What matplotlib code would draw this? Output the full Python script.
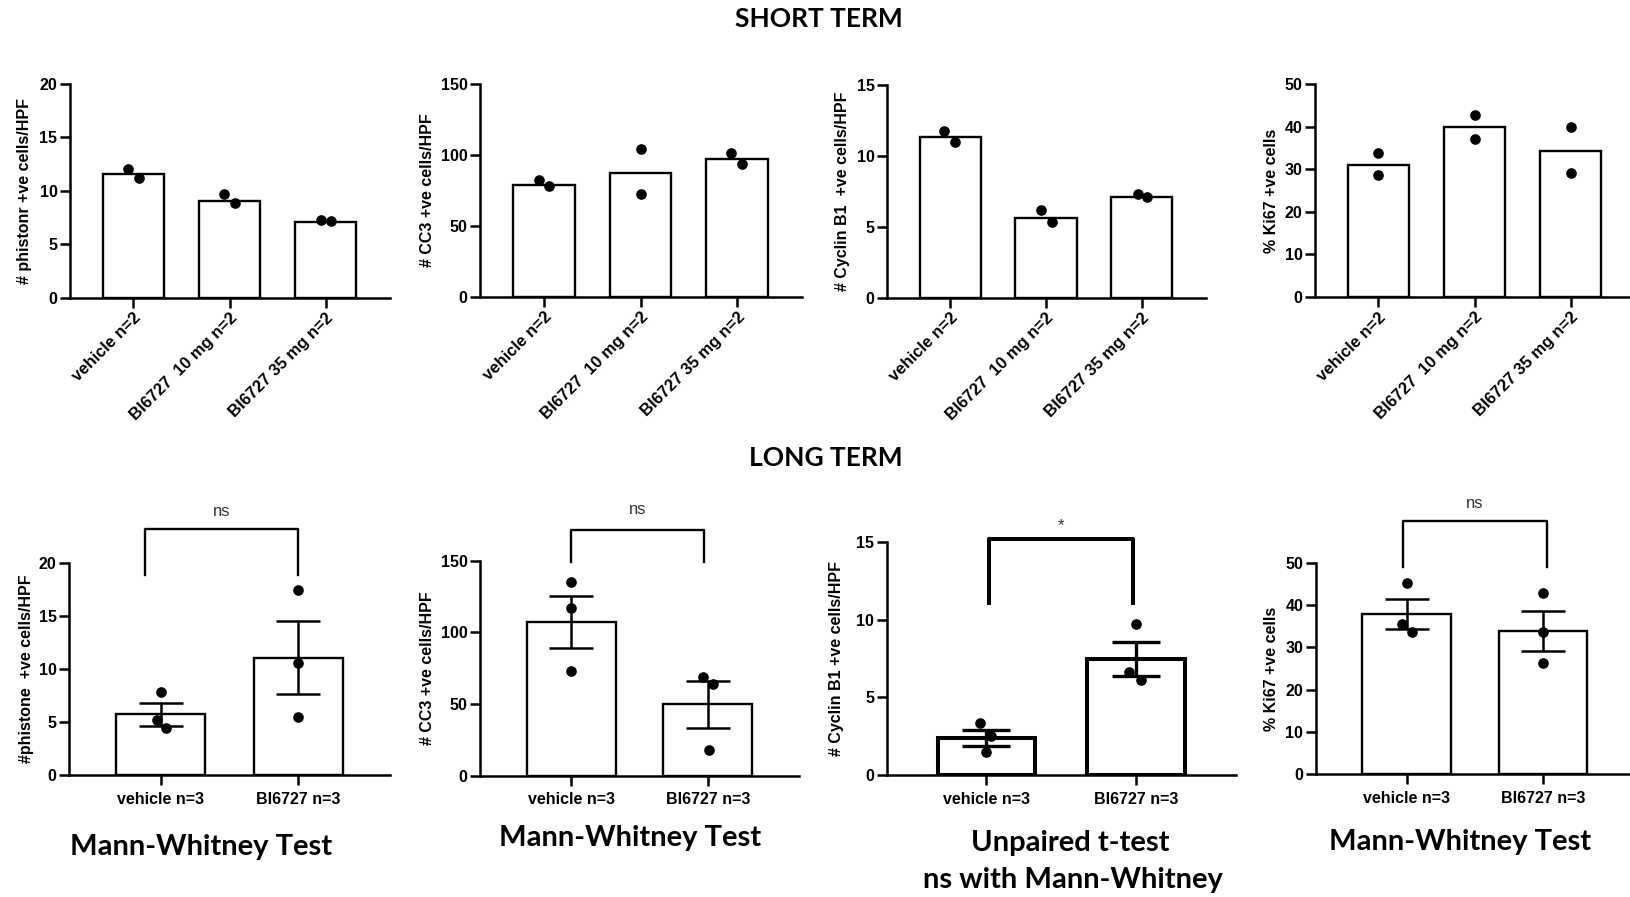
import numpy as np
import matplotlib
matplotlib.use('Agg')
import matplotlib.pyplot as plt

### Data
short_groups = ['vehicle n=2', 'BI6727  10 mg n=2', 'BI6727 35 mg n=2']
long_groups = ['vehicle n=3', 'BI6727 n=3']

# short term: bar heights and the individual points
phist_short = [11.55, 9.05, 7.12]
phist_short_pts = [[12.0, 11.23], [9.67, 8.83], [7.27, 7.14]]
cc3_short = [78.8, 87.0, 96.9]
cc3_short_pts = [[82.3, 78.1], [104.2, 72.4], [101.6, 93.3]]
cyc_short = [11.3, 5.65, 7.12]
cyc_short_pts = [[11.76, 10.96], [6.18, 5.36], [7.31, 7.08]]
ki67_short = [30.9, 39.8, 34.3]
ki67_short_pts = [[33.9, 28.6], [42.7, 37.2], [39.8, 29.2]]

# long term: mean, SEM and individual points
phist_long = [5.73, 11.1]
phist_long_sem = [1.07, 3.46]
phist_long_pts = [[7.86, 5.19, 4.46], [17.45, 10.6, 5.5]]
cc3_long = [107.4, 49.8]
cc3_long_sem = [18.3, 16.3]
cc3_long_pts = [[134.9, 116.8, 73.3], [69.1, 63.8, 17.9]]
cyc_long = [2.40, 7.46]
cyc_long_sem = [0.53, 1.11]
cyc_long_pts = [[3.33, 2.53, 1.50], [9.73, 6.66, 6.12]]
ki67_long = [37.8, 33.9]
ki67_long_sem = [3.55, 4.65]
ki67_long_pts = [[45.3, 35.4, 33.6], [42.8, 33.6, 26.4]]

short_ylabels = ['# phistonr +ve cells/HPF', '# CC3 +ve cells/HPF',
                 '# Cyclin B1  +ve cells/HPF', '% Ki67 +ve cells']
long_ylabels = ['#phistone  +ve cells/HPF', '# CC3 +ve cells/HPF',
                '# Cyclin B1 +ve cells/HPF', '% Ki67 +ve cells']
short_ymax = [20, 150, 15, 50]
short_ystep = [5, 50, 5, 10]
long_ymax = [20, 150, 15, 50]
long_ystep = [5, 50, 5, 10]
sig_labels = ['ns', 'ns', '*', 'ns']

### Layout (pixels) and point jitter
W, H = 1630, 897
short_rects = [(70, 390, 84, 297.7), (480, 802, 84, 296.7),
               (887, 1206, 85, 297.7), (1315, 1635, 84, 297)]
long_rects = [(69, 390, 563.3, 775), (480, 799, 560.7, 775.7),
              (886.7, 1235.7, 542.3, 775), (1315.7, 1634, 562.7, 774.3)]
short_ylab_x = [25, 427, 842, 1272]
long_ylab_x = [27, 427, 837, 1272]
short_jit = [[[-0.055, 0.06], [-0.054, 0.06], [-0.05, 0.06]],
             [[-0.055, 0.05], [0, 0], [-0.066, 0.045]],
             [[-0.06, 0.05], [-0.05, 0.06], [-0.045, 0.055]],
             [[0, 0], [0, 0], [0, 0]]]
long_jit = [[[0, -0.03, 0.036], [0, 0, 0]],
            [[0, 0, 0], [-0.037, 0.037, 0.007]],
            [[-0.04, 0.033, 0], [0, -0.047, 0.033]],
            [[0, -0.037, 0.037], [0, 0, 0]]]
# bracket: x left, x right, y top, y bottom, text y
brackets = [(-0.116, 1.0, 23.2, 18.9, 24.9),
            (0.0, 0.97, 171.4, 148.9, 185.4),
            (0.014, 0.983, 15.19, 11.11, 16.1),
            (-0.026, 1.03, 59.9, 48.9, 64.0)]
captions = [(201, 847, 'Mann-Whitney Test'), (630, 838, 'Mann-Whitney Test'),
            (1070, 843, 'Unpaired t-test'), (1073, 880, 'ns with Mann-Whitney'),
            (1460, 842, 'Mann-Whitney Test')]

plt.rcParams['font.family'] = ['Liberation Sans', 'DejaVu Sans']

fig = plt.figure(figsize=(W / 100, H / 100), dpi=100)


def px_axes(r):
    x0, x1, yt, yb = r
    return fig.add_axes([x0 / W, 1 - yb / H, (x1 - x0) / W, (yb - yt) / H])


def style_axes(ax, ymax, ystep, lw):
    for s in ['top', 'right']:
        ax.spines[s].set_visible(False)
    for s in ['left', 'bottom']:
        ax.spines[s].set_linewidth(lw)
    ax.set_ylim(0, ymax)
    ax.set_yticks(np.arange(0, ymax + 0.1, ystep))
    ax.tick_params(axis='both', width=lw, length=7, labelsize=11.5, pad=2)
    for t in ax.get_yticklabels():
        t.set_fontweight('bold')


### Short term row
short_means = [phist_short, cc3_short, cyc_short, ki67_short]
short_pts = [phist_short_pts, cc3_short_pts, cyc_short_pts, ki67_short_pts]
for i in range(4):
    ax = px_axes(short_rects[i])
    x = np.arange(len(short_groups))
    ax.bar(x, short_means[i], width=0.64, color='white', edgecolor='black',
           linewidth=1.7, zorder=2)
    for j in range(len(short_groups)):
        ax.scatter(x[j] + np.array(short_jit[i][j]), short_pts[i][j], s=44,
                   color='black', zorder=3, clip_on=False)
    ax.set_xlim(-0.66, 2.67)
    style_axes(ax, short_ymax[i], short_ystep[i], 1.8)
    ax.set_xticks(x)
    ax.set_xticklabels(short_groups, rotation=45, ha='right',
                       rotation_mode='anchor', fontweight='bold', fontsize=12)
    x0, x1 = short_rects[i][0], short_rects[i][1]
    ax.set_ylabel(short_ylabels[i], fontsize=11.5, fontweight='bold', va='center')
    ax.yaxis.set_label_coords((short_ylab_x[i] - x0) / (x1 - x0), 0.5)

### Long term row
long_means = [phist_long, cc3_long, cyc_long, ki67_long]
long_sems = [phist_long_sem, cc3_long_sem, cyc_long_sem, ki67_long_sem]
long_pts = [phist_long_pts, cc3_long_pts, cyc_long_pts, ki67_long_pts]
for i in range(4):
    ax = px_axes(long_rects[i])
    lw = 2.9 if i == 2 else 1.7
    x = np.arange(len(long_groups))
    ax.bar(x, long_means[i], width=0.65, color='white', edgecolor='black',
           linewidth=lw, zorder=2)
    ax.errorbar(x, long_means[i], yerr=long_sems[i], fmt='none', ecolor='black',
                elinewidth=1.8 if i != 2 else 2.4, capsize=17 if i == 2 else 16,
                capthick=1.8 if i != 2 else 2.4, zorder=4)
    for j in range(len(long_groups)):
        ax.scatter(x[j] + np.array(long_jit[i][j]), long_pts[i][j], s=44,
                   color='black', zorder=3, clip_on=False)
    ax.set_xlim(-0.667, 1.667)
    style_axes(ax, long_ymax[i], long_ystep[i], 1.8)
    ax.set_xticks(x)
    ax.set_xticklabels(long_groups, fontweight='bold', fontsize=11.5)
    ax.tick_params(axis='x', pad=5)
    x0, x1 = long_rects[i][0], long_rects[i][1]
    ax.set_ylabel(long_ylabels[i], fontsize=11.5, fontweight='bold', va='center')
    ax.yaxis.set_label_coords((long_ylab_x[i] - x0) / (x1 - x0), 0.5)

    # significance bracket
    bl, br, bt, bb, ty = brackets[i]
    ax.plot([bl, bl, br, br], [bb, bt, bt, bb], color='black',
            linewidth=lw, clip_on=False, zorder=5)
    ax.text((bl + br) / 2, ty, sig_labels[i], ha='center', va='center',
            fontsize=12, color='#333333', clip_on=False)

### Row titles and captions
fig.text(819 / W, 1 - 19 / H, 'SHORT TERM', ha='center', va='center',
         fontsize=19, fontweight='bold', family=['Lato', 'DejaVu Sans'])
fig.text(826 / W, 1 - 458 / H, 'LONG TERM', ha='center', va='center',
         fontsize=19, fontweight='bold', family=['Lato', 'DejaVu Sans'])
for cx, cy, txt in captions:
    fig.text(cx / W, 1 - cy / H, txt, ha='center', va='center',
             fontsize=21, fontweight='bold', family=['Lato', 'DejaVu Sans'])

fig.savefig('out.png', dpi=100)
